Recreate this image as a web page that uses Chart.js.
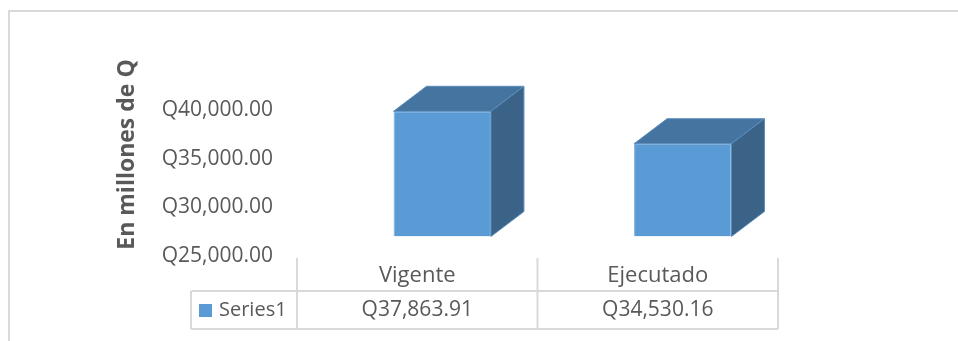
<!DOCTYPE html>
<html>
<head>
<meta charset="utf-8">
<script src="https://cdn.jsdelivr.net/npm/chart.js@4.4.0/dist/chart.umd.min.js"></script>
<style>
  html, body { margin: 0; padding: 0; background: #fff; }
  #wrap { position: relative; width: 958px; height: 341px; }
</style>
</head>
<body>
<div id="wrap"><canvas id="chart" width="958" height="341"></canvas></div>
<script>
// data
const categories = ['Vigente', 'Ejecutado'];
const seriesName = 'Series1';
const values = [37863.91, 34530.16];
const yTicks = [25000, 30000, 35000, 40000];
const yTitle = 'En millones de Q';

const textColor = '#595959';
const lineColor = '#d9d9d9';
const fontFamily = '"Open Sans", "Noto Sans", sans-serif';

function money(v) {
    return 'Q' + v.toLocaleString('en-US', {minimumFractionDigits: 2, maximumFractionDigits: 2});
}

// perspective: front face sits up/right of the axis floor, depth goes back up/right
const front = {x: 25, y: -19.5};
const depth = {x: 33, y: -25};

const bar3d = {
    id: 'bar3d',
    beforeDatasetsDraw(chart) {
        chart.ctx.save();
        chart.ctx.translate(front.x, front.y);
    },
    afterDatasetsDraw(chart) {
        const ctx = chart.ctx;
        ctx.restore();
        const meta = chart.getDatasetMeta(0);
        meta.data.forEach(function(el) {
            const p = el.getProps(['x', 'y', 'base', 'width'], true);
            const l = p.x - p.width / 2 + front.x;
            const r = p.x + p.width / 2 + front.x;
            const t = p.y + front.y;
            const b = p.base + front.y;
            // top face
            ctx.beginPath();
            ctx.moveTo(l, t);
            ctx.lineTo(l + depth.x, t + depth.y);
            ctx.lineTo(r + depth.x, t + depth.y);
            ctx.lineTo(r, t);
            ctx.closePath();
            ctx.fillStyle = '#44749f';
            ctx.fill();
            ctx.strokeStyle = '#5a8dbd';
            ctx.lineWidth = 1;
            ctx.stroke();
            // side face
            ctx.beginPath();
            ctx.moveTo(r, t);
            ctx.lineTo(r + depth.x, t + depth.y);
            ctx.lineTo(r + depth.x, b + depth.y);
            ctx.lineTo(r, b);
            ctx.closePath();
            ctx.fillStyle = '#3a6387';
            ctx.fill();
            ctx.stroke();
        });
    }
};

const dataTable = {
    id: 'dataTable',
    beforeDraw(chart) {
        const ctx = chart.ctx;
        ctx.save();
        ctx.strokeStyle = lineColor;
        ctx.lineWidth = 2;
        ctx.beginPath();
        ctx.moveTo(9, 341);
        ctx.lineTo(9, 11);
        ctx.lineTo(958, 11);
        ctx.stroke();
        ctx.restore();
    },
    afterDraw(chart) {
        const ctx = chart.ctx;
        const area = chart.chartArea;
        const xs = chart.scales.x;
        const half = (xs.getPixelForValue(1) - xs.getPixelForValue(0)) / 2;
        const tableLeft = 191;
        const headTop = area.bottom + 2;
        const rowTop = 291;
        const rowBottom = 329;

        ctx.save();
        ctx.strokeStyle = lineColor;
        ctx.lineWidth = 2;
        ctx.beginPath();
        // column separators
        ctx.moveTo(area.left, headTop);
        ctx.lineTo(area.left, rowBottom);
        categories.forEach(function(c, i) {
            const right = xs.getPixelForValue(i) + half;
            ctx.moveTo(right, headTop);
            ctx.lineTo(right, rowBottom);
        });
        ctx.moveTo(tableLeft, rowTop);
        ctx.lineTo(tableLeft, rowBottom);
        ctx.moveTo(tableLeft, rowTop);
        ctx.lineTo(area.right, rowTop);
        ctx.moveTo(tableLeft, rowBottom);
        ctx.lineTo(area.right, rowBottom);
        ctx.stroke();

        ctx.fillStyle = textColor;
        ctx.textAlign = 'center';
        ctx.textBaseline = 'middle';
        categories.forEach(function(c, i) {
            const cx = xs.getPixelForValue(i);
            ctx.font = '22px ' + fontFamily;
            ctx.fillText(c, cx, 276);
            ctx.font = '21px ' + fontFamily;
            ctx.fillText(money(values[i]), cx, 310);
        });

        // legend key
        ctx.fillStyle = '#5b9bd5';
        ctx.fillRect(199, 304, 13, 13);
        ctx.fillStyle = textColor;
        ctx.textAlign = 'left';
        ctx.font = '20px ' + fontFamily;
        ctx.fillText(seriesName, 219, 310);
        ctx.restore();
    }
};

new Chart(document.getElementById('chart'), {
    type: 'bar',
    data: {
        labels: categories,
        datasets: [{
            label: seriesName,
            data: values,
            base: yTicks[0],
            backgroundColor: '#5b9bd5',
            borderColor: '#7fb2e2',
            borderWidth: 1,
            categoryPercentage: 1,
            barPercentage: 0.405
        }]
    },
    options: {
        responsive: false,
        animation: false,
        layout: {
            padding: {left: 0, right: 180, top: 53, bottom: 85}
        },
        plugins: {
            legend: {display: false},
            tooltip: {enabled: false}
        },
        scales: {
            x: {
                display: false,
                offset: true
            },
            y: {
                min: 25000,
                max: 45857,
                grid: {display: false, drawTicks: false},
                border: {display: false},
                afterBuildTicks: function(scale) {
                    scale.ticks = yTicks.map(function(v) { return {value: v}; });
                },
                afterFit: function(scale) {
                    scale.width = 297;
                },
                ticks: {
                    padding: 24,
                    color: textColor,
                    font: {family: fontFamily, size: 21},
                    callback: function(v) { return money(v); }
                },
                title: {
                    display: true,
                    text: yTitle,
                    color: textColor,
                    font: {family: fontFamily, size: 23, weight: 'bold'},
                    padding: {top: 114, bottom: 0}
                }
            }
        }
    },
    plugins: [bar3d, dataTable]
});
</script>
</body>
</html>
